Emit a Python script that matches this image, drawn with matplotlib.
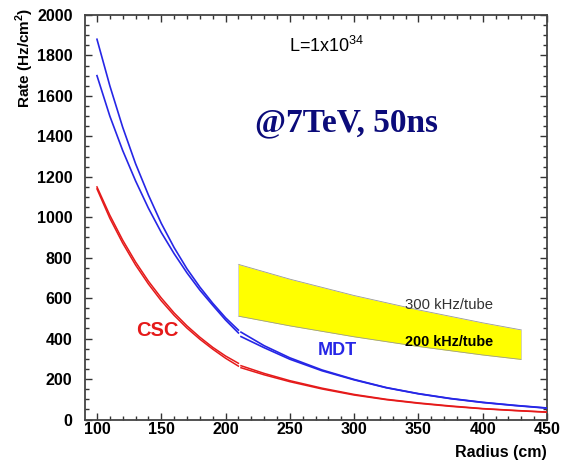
import numpy as np
import matplotlib
matplotlib.use("Agg")
from matplotlib import pyplot as plt
from matplotlib.ticker import MultipleLocator

plt.rcParams['font.family'] = ['Liberation Sans', 'DejaVu Sans']

# radius (cm) -> rate (Hz/cm^2)
r_inner = [100, 110, 120, 130, 140, 150, 160, 170, 180, 190, 200, 210]
mdt_in_hi = [1880, 1650, 1445, 1265, 1110, 970, 850, 745, 655, 575, 503, 442]
mdt_in_lo = [1700, 1500, 1330, 1180, 1045, 925, 820, 725, 640, 565, 492, 428]
csc_in_hi = [1150, 1010, 887, 779, 684, 601, 527, 463, 407, 357, 314, 278]
csc_in_lo = [1140, 995, 872, 764, 670, 587, 515, 452, 397, 348, 303, 264]

r_outer = [212, 230, 250, 275, 300, 325, 350, 375, 400, 425, 450]
mdt_out_hi = [432, 365, 305, 245, 198, 158, 128, 104, 85, 70, 57]
mdt_out_lo = [410, 355, 298, 241, 196, 157, 127, 103, 84, 69, 56]
csc_out_hi = [266, 228, 192, 155, 124, 100, 82, 67, 54, 45, 37]
csc_out_lo = [256, 221, 187, 151, 121, 98, 80, 65, 53, 44, 36]

# tube occupancy band: 300 kHz/tube (top) and 200 kHz/tube (bottom)
r_band = [210, 250, 300, 350, 400, 430]
band_300 = [767, 694, 613, 542, 478, 443]
band_200 = [511, 463, 409, 361, 319, 297]

BLUE = '#2626e6'
RED = '#e51a1a'

fig = plt.figure(figsize=(5.63, 4.61), dpi=100)
ax = fig.add_axes([0.151, 0.090, 0.8206, 0.8775])

ax.fill_between(r_band, band_200, band_300, color='#ffff00', lw=0, zorder=1)
ax.plot(r_band, band_300, color='#999999', lw=0.6, zorder=1)
ax.plot(r_band, band_200, color='#999999', lw=0.6, zorder=1)
ax.plot([r_band[0]] * 2, [band_200[0], band_300[0]], color='#cccccc', lw=0.6)
ax.plot([r_band[-1]] * 2, [band_200[-1], band_300[-1]], color='#cccccc', lw=0.6)

for ys in (mdt_in_hi, mdt_in_lo):
    ax.plot(r_inner, ys, color=BLUE, lw=1.2, zorder=3)
for ys in (mdt_out_hi, mdt_out_lo):
    ax.plot(r_outer, ys, color=BLUE, lw=1.2, zorder=3)
for ys in (csc_in_hi, csc_in_lo):
    ax.plot(r_inner, ys, color=RED, lw=1.1, zorder=3)
for ys in (csc_out_hi, csc_out_lo):
    ax.plot(r_outer, ys, color=RED, lw=1.1, zorder=3)

ax.set_xlim(90.7, 450)
ax.set_ylim(0, 2000)
ax.xaxis.set_major_locator(MultipleLocator(50))
ax.xaxis.set_minor_locator(MultipleLocator(10))
ax.yaxis.set_major_locator(MultipleLocator(200))
ax.yaxis.set_minor_locator(MultipleLocator(50))
ax.tick_params(which='both', direction='in', top=True, right=True,
               color='#333333', width=1.0)
ax.tick_params(which='major', length=5)
ax.tick_params(which='minor', length=2.8)
ax.tick_params(axis='x', pad=2)
ax.tick_params(axis='y', pad=9)
for lab in ax.get_xticklabels() + ax.get_yticklabels():
    lab.set_fontsize(11.5)
    lab.set_fontweight('bold')
for sp in ax.spines.values():
    sp.set_color('#444444')
    sp.set_linewidth(1.3)

fig.text(25 / 563, 1 - 8 / 461, r'Rate (Hz/cm$^{\mathregular{2}}$)', rotation=90,
         ha='center', va='top', fontsize=11, fontweight='bold')
fig.text(547 / 563, 1 - 452 / 461, 'Radius (cm)', ha='right', va='center',
         fontsize=11.5, fontweight='bold')

ax.text(249.7, 1817, r'L=1x10$^{\mathregular{34}}$', fontsize=13,
        ha='left', va='baseline')
ax.text(222.6, 1423, '@7TeV, 50ns', family=['Liberation Serif'],
        fontsize=24, fontweight='bold', color='#0b0b7a', ha='left', va='baseline')
ax.text(287, 339, 'MDT', fontsize=13, fontweight='bold', color=BLUE,
        ha='center', va='center')
ax.text(147.3, 438, 'CSC', fontsize=14.5, fontweight='bold', color=RED,
        ha='center', va='center')
ax.text(339.7, 566, '300 kHz/tube', fontsize=10.7, color='#333333',
        ha='left', va='center')
ax.text(339.7, 383, '200 kHz/tube', fontsize=10.4, fontweight='bold',
        color='black', ha='left', va='center')

fig.savefig('out.png', dpi=100)
